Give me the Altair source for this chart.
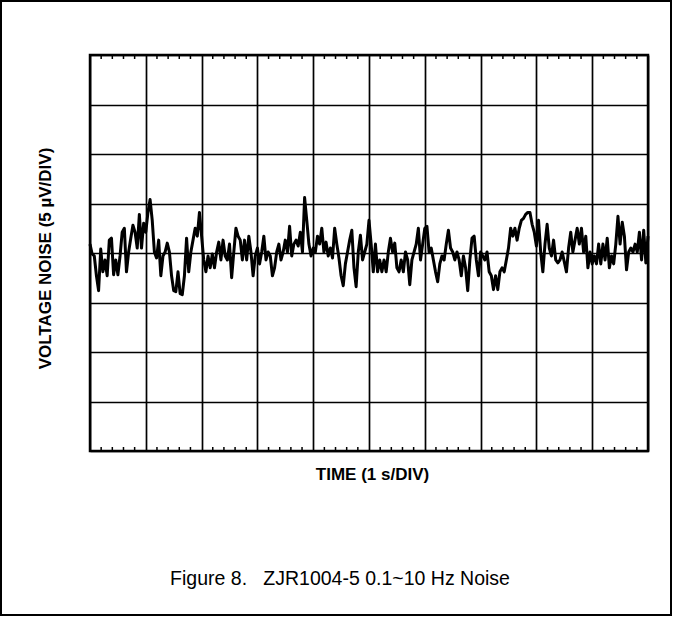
import altair as alt
import numpy as np
import pandas as pd

# 0.1–10 Hz voltage noise trace, µV, sampled evenly over the 10 s sweep
noise_uv = [
    0.9, -0.1, -0.3, -2.3, -3.8, 0.4, -1.9, -0.7, -2.3, 1.3,
    1.5, -2.2, -0.7, -2.2, -0.3, 2.1, 2.5, -1.9, 0.1, 1.5,
    2.8, 2.1, 0.5, 3.9, 0.5, 3.0, 2.1, 4.1, 5.4, 3.3,
    0.1, -0.5, 1.3, -2.3, -0.3, 0.1, 1.0, 0.1, -2.3, -3.8,
    -3.9, -1.9, -4.1, -4.2, -2.3, 1.5, -1.9, 0.1, 1.3, 2.5,
    1.7, 4.1, 1.7, -0.7, -1.9, -0.3, -1.5, -0.1, -1.5, 0.1,
    1.1, -0.7, 1.3, -0.3, -0.7, 0.9, -2.5, 0.1, 2.5, 1.7,
    1.3, -0.7, 1.3, -0.7, 1.7, 0.1, -2.3, -0.3, 0.5, -1.1,
    0.1, 1.7, -0.7, 0.1, -0.3, -2.3, -1.5, 0.1, 0.9, -0.7,
    0.1, 1.3, 0.1, 2.7, -0.3, 0.9, 1.3, 0.7, 2.1, 0.1,
    5.6, 3.3, 0.9, -0.3, 0.5, 0.1, 1.7, 0.9, 2.5, 0.1,
    1.1, -0.3, 0.5, -0.5, 2.5, 0.9, -0.5, -2.3, -3.3, -1.1,
    0.1, 1.3, 2.3, -1.5, -3.4, 0.1, 1.8, -0.7, 0.1, 0.9,
    3.3, 0.9, -1.9, 0.9, -1.9, -0.7, -1.9, -0.7, -1.9, 0.1,
    1.5, 0.1, 1.0, -1.5, -1.9, -0.7, -1.9, 0.1, -0.7, -3.2,
    -0.7, 0.1, 0.9, 2.5, -0.7, 0.9, 2.5, 2.7, 0.1, 0.5,
    -0.7, -1.9, -2.9, -1.1, -0.3, -0.7, 0.9, 2.3, 0.5, 0.1,
    -0.7, 0.1, -0.7, -2.3, -0.3, -1.5, -3.8, -0.7, 1.5, 1.7,
    -0.7, -2.3, 0.1, -0.3, -0.7, 0.1, -1.9, -2.3, -3.7, -2.3,
    -3.7, -1.9, -1.5, -1.9, -0.7, 0.5, 2.5, 1.7, 2.5, 1.3,
    2.5, 3.3, 3.5, 3.9, 4.1, 4.1, 2.9, 2.1, 0.7, 3.3,
    0.1, -1.9, 0.9, 2.9, 0.5, -0.3, 1.3, -0.7, -1.0, -0.7,
    0.1, -0.9, -1.9, 0.5, 2.1, 0.1, 1.3, 2.5, 0.9, 2.5,
    0.1, 1.7, -1.5, 0.1, -1.1, -0.3, -1.1, 0.9, -1.1, 0.9,
    -0.7, 1.5, -1.5, -0.3, -1.1, 0.9, 3.7, 0.9, 3.1, 1.7,
    -1.7, 0.1, 0.5, 0.1, 0.9, 0.1, 2.1, -0.7, 2.3, -1.0,
    1.7,
]
time_s = np.linspace(0.0, 10.0, len(noise_uv))

# graticule: 1 s per horizontal division, 5 µV per vertical division
x_divisions = list(range(0, 11))
y_divisions = list(range(-20, 21, 5))
minor_ticks_s = [round(i * 0.2, 1) for i in range(51) if i % 5]

X_TITLE = "TIME (1 s/DIV)"
Y_TITLE = "VOLTAGE NOISE (5 µV/DIV)"
CAPTION = "Figure 8.\u00a0\u00a0\u00a0ZJR1004-5 0.1~10 Hz Noise"

FONT = "Liberation Sans"
W, H = 558, 396

trace = pd.DataFrame({"t": time_s, "v": noise_uv})
ticks = pd.DataFrame({"t": minor_ticks_s})
caption = pd.DataFrame({"caption": [CAPTION]})

x_scale = alt.Scale(domain=[0, 10], nice=False, zero=False)
y_scale = alt.Scale(domain=[-20, 20], nice=False, zero=False)

grid_style = dict(
    grid=True, gridColor="black", gridOpacity=1, gridWidth=1.7,
    labels=False, ticks=False, domain=False,
    titleFont=FONT, titleFontSize=17, titleFontWeight="bold", titleColor="black",
)

line = alt.Chart(trace).mark_line(
    color="black", strokeWidth=3, strokeJoin="round"
).encode(
    x=alt.X("t:Q", scale=x_scale, axis=alt.Axis(
        values=x_divisions, title=X_TITLE,
        titleX=282, titleY=28, titleBaseline="alphabetic", titleAlign="center",
        **grid_style)),
    y=alt.Y("v:Q", scale=y_scale, axis=alt.Axis(
        values=y_divisions, title=Y_TITLE,
        titleX=-40, titleY=203, titleAngle=270, titleBaseline="alphabetic",
        titleAlign="center", **grid_style)),
)

top_ticks = alt.Chart(ticks).mark_rule(color="black", strokeWidth=1.5).encode(
    x=alt.X("t:Q", scale=x_scale), y=alt.value(0), y2=alt.value(4)
)
bottom_ticks = alt.Chart(ticks).mark_rule(color="black", strokeWidth=1.5).encode(
    x=alt.X("t:Q", scale=x_scale), y=alt.value(H - 4), y2=alt.value(H)
)

caption_text = alt.Chart(caption).mark_text(
    font=FONT, fontSize=19.5, color="black", align="center", baseline="alphabetic"
).encode(text="caption:N", x=alt.value(250), y=alt.value(530))

frame = alt.Chart(caption).mark_rect(
    fillOpacity=0, stroke="black", strokeWidth=2
).encode(x=alt.value(-89), x2=alt.value(581), y=alt.value(-54), y2=alt.value(560))

chart = alt.layer(line, top_ticks, bottom_ticks, caption_text, frame).properties(
    width=W, height=H,
    autosize=alt.AutoSizeParams(type="none"),
    padding={"left": 90, "top": 55, "right": 25, "bottom": 166},
    background="white",
).configure_view(stroke="black", strokeWidth=2.5)

chart.save("out.html", embed_options={"renderer": "svg", "actions": False})
